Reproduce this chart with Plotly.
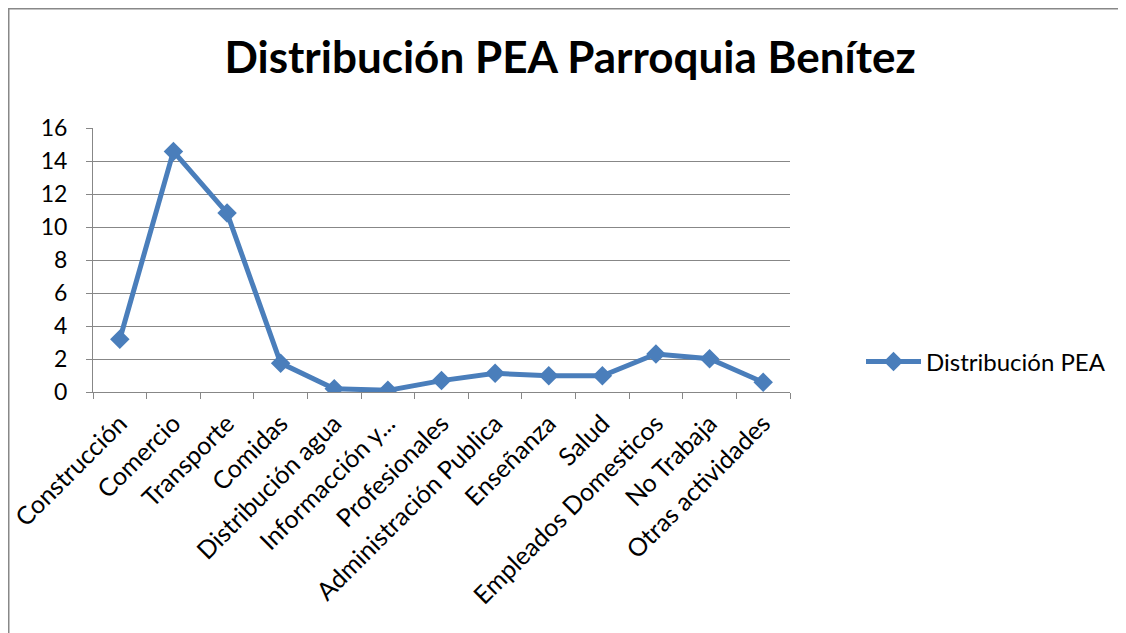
import plotly.graph_objects as go

categories = ["Construcción", "Comercio", "Transporte", "Comidas", "Distribución agua",
              "Informacción y...", "Profesionales", "Administración Publica", "Enseñanza",
              "Salud", "Empleados Domesticos", "No Trabaja", "Otras actividades"]
values = [3.2, 14.58, 10.85, 1.75, 0.2, 0.1, 0.69, 1.13, 0.98, 0.98, 2.3, 2.02, 0.59]
series_name = "Distribución PEA"
title_text = "Distribución PEA Parroquia Benítez"
y_ticks = [0, 2, 4, 6, 8, 10, 12, 14, 16]

FONT = "Lato"
BLUE = "#4A7EBB"
GRID = "#878787"
OFF = 8  # page body offset

W, H = 1126, 633
L, R, T, B = 93 - OFF, W - (790 - OFF), 128 - OFF, H - (392 - OFF)
pw, ph = W - L - R, H - T - B


def px_x(sx):
    return (sx - OFF - L) / pw


def px_y(sy):
    return (H - B - (sy - OFF)) / ph


fig = go.Figure()
fig.add_trace(go.Scatter(
    x=categories, y=values, name=series_name, mode="lines+markers",
    line=dict(color=BLUE, width=5),
    marker=dict(symbol="diamond", size=15, color=BLUE),
))

fig.update_layout(
    width=W, height=H,
    margin=dict(l=L, r=R, t=T, b=B, autoexpand=False),
    paper_bgcolor="white", plot_bgcolor="white",
    font=dict(family=FONT, color="black", size=22),
    title=dict(text=title_text, x=(570 - OFF) / W, xanchor="center",
               y=1 - (58 - OFF) / H, yanchor="middle",
               font=dict(family=FONT, size=44, color="black", weight="bold")),
    showlegend=True,
    legend=dict(x=px_x(861), y=px_y(362), xanchor="left", yanchor="middle",
                font=dict(size=24, family=FONT), itemwidth=55, bgcolor="rgba(0,0,0,0)"),
    xaxis=dict(type="category", tickson="boundaries", ticks="outside", ticklen=6,
               tickcolor=GRID, showline=True, linecolor=GRID, linewidth=1,
               showgrid=False, tickangle=-45, tickfont=dict(size=25, family=FONT),
               ticklabelstandoff=6, automargin=False,
               range=[-0.5, len(categories) - 0.5]),
    yaxis=dict(range=[0, 16], tickvals=y_ticks, ticks="outside", ticklen=6, tickcolor=GRID,
               showline=True, linecolor=GRID, linewidth=1, showgrid=True, gridcolor=GRID,
               gridwidth=1, zeroline=False, tickfont=dict(size=23, family=FONT),
               ticklabelstandoff=14, automargin=False),
    shapes=[
        dict(type="line", xref="paper", yref="paper",
             x0=px_x(OFF), x1=px_x(W + 40),
             y0=px_y(OFF), y1=px_y(OFF),
             line=dict(color="#888888", width=3)),
        dict(type="line", xref="paper", yref="paper",
             x0=px_x(OFF), x1=px_x(OFF),
             y0=px_y(OFF), y1=px_y(H + 40),
             line=dict(color="#888888", width=3)),
    ],
)

fig.write_html("out.html")
